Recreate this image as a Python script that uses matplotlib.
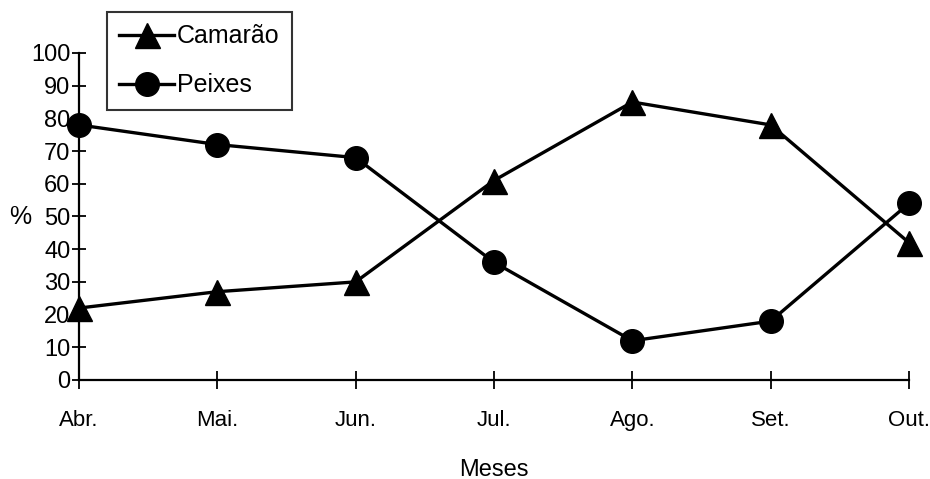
import matplotlib.pyplot as plt

meses = ["Abr.", "Mai.", "Jun.", "Jul.", "Ago.", "Set.", "Out."]
camarao = [22, 27, 30, 61, 85, 78, 42]
peixes = [78, 72, 68, 36, 12, 18, 54]
yticks = list(range(0, 101, 10))

plt.rcParams['font.family'] = ['Liberation Sans', 'DejaVu Sans']

fig = plt.figure(figsize=(9.3, 4.79), dpi=100)
ax = fig.add_axes([0.0849, 0.2067, 0.8925, 0.6827])

x = list(range(len(meses)))
ax.plot(x, camarao, color="black", lw=2.4, marker="^", ms=18, label="Camarão", clip_on=False, zorder=3)
ax.plot(x, peixes, color="black", lw=2.4, marker="o", ms=17, label="Peixes", clip_on=False, zorder=3)

ax.set_xlim(0, 6)
ax.set_ylim(0, 100)
ax.set_xticks(x)
ax.set_xticklabels(meses)
ax.set_yticks(yticks)
for s in ["top", "right"]:
    ax.spines[s].set_visible(False)
for s in ["left", "bottom"]:
    ax.spines[s].set_linewidth(1.6)
ax.tick_params(axis="y", direction="inout", length=10, width=1.3, labelsize=17, pad=1)
ax.tick_params(axis="x", direction="inout", length=13, width=1.3, labelsize=16, pad=15)

ax.set_xlabel("Meses", fontsize=17, labelpad=20)
fig.text(0.022, 0.548, "%", fontsize=18, va="center", ha="center")

leg = fig.legend(loc="upper left", bbox_to_anchor=(0.115, 0.975), fontsize=18,
                 frameon=True, fancybox=False, edgecolor="black", handlelength=2.2,
                 handletextpad=0.1, borderpad=0.5, labelspacing=1.0, borderaxespad=0)
leg.get_frame().set_linewidth(1.5)

plt.savefig("out.png", dpi=100)
